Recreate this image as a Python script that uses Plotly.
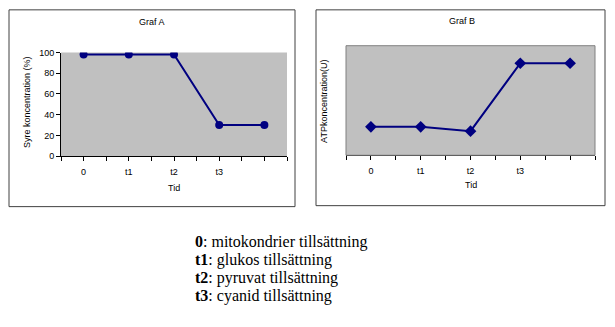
import plotly.graph_objects as go

categories = ["0", "t1", "t2", "t3", ""]
syre_values = [98, 98, 98, 30, 30]
atp_values = [26, 26, 22, 84, 84]
yticks_a = [0, 20, 40, 60, 80, 100]
legend_keys = ["0", "t1", "t2", "t3"]
legend_texts = ["mitokondrier tillsättning", "glukos tillsättning",
                "pyruvat tillsättning", "cyanid tillsättning"]

W, H = 615, 327
px = lambda x: x / W
py = lambda y: 1 - y / H

xpos = list(range(len(categories)))
navy = "#000080"
font = dict(family="Liberation Sans, Arial", size=9, color="black")

fig = go.Figure()
fig.add_trace(go.Scatter(x=xpos, y=syre_values, mode="lines+markers",
                         line=dict(color=navy, width=2),
                         marker=dict(symbol="circle", size=8, color=navy),
                         xaxis="x", yaxis="y", showlegend=False))
fig.add_trace(go.Scatter(x=xpos, y=atp_values, mode="lines+markers",
                         line=dict(color=navy, width=2),
                         marker=dict(symbol="diamond", size=9, color=navy),
                         xaxis="x2", yaxis="y2", showlegend=False))

xcommon = dict(range=[-0.5, 4.5], tickvals=xpos, ticktext=categories,
               ticks="outside", ticklen=4, tickcolor="black", showline=True,
               linecolor="black", linewidth=1, showgrid=False, zeroline=False,
               tickfont=font, fixedrange=True, ticklabelstandoff=3,
               minor=dict(tickvals=[-0.5, 0.5, 1.5, 2.5, 3.5, 4.5],
                          ticks="outside", ticklen=4, tickcolor="black"))

fig.update_layout(
    width=W, height=H, margin=dict(l=0, r=0, t=0, b=0),
    paper_bgcolor="white", plot_bgcolor="#C0C0C0",
    xaxis=dict(domain=[px(61), px(287)], anchor="y", **xcommon),
    yaxis=dict(domain=[py(156), py(49)], anchor="x", range=[0, 100],
               tickvals=yticks_a, ticks="outside", ticklen=4,
               tickcolor="black", showline=True, linecolor="black",
               showgrid=False, zeroline=False, tickfont=font),
    xaxis2=dict(domain=[px(346), px(595)], anchor="y2", **xcommon),
    yaxis2=dict(domain=[py(155), py(42)], anchor="x2", range=[0, 100],
                showticklabels=False, showline=False, showgrid=False,
                zeroline=False, ticks=""),
)

shapes = [
    dict(type="rect", xref="paper", yref="paper", x0=px(9), x1=px(295),
         y0=py(208), y1=py(5), line=dict(color="#404040", width=1)),
    dict(type="rect", xref="paper", yref="paper", x0=px(316), x1=px(605),
         y0=py(207), y1=py(5), line=dict(color="#404040", width=1)),
    dict(type="rect", xref="paper", yref="paper", x0=px(346), x1=px(595),
         y0=py(155), y1=py(42), line=dict(color="#808080", width=1)),
]
fig.update_layout(shapes=shapes)

ann = [
    dict(text="Graf A", x=px(152), y=py(18)),
    dict(text="Graf B", x=px(462), y=py(17)),
    dict(text="Tid", x=px(174), y=py(189)),
    dict(text="Tid", x=px(471), y=py(186)),
    dict(text="Syre koncentration (%)", x=px(27), y=py(100), textangle=-90),
    dict(text="ATPkoncentration(U)", x=px(324), y=py(100), textangle=-90),
]
annotations = [dict(xref="paper", yref="paper", showarrow=False,
                    xanchor="center", yanchor="middle", font=font, **a)
               for a in ann]

serif = dict(family="Liberation Serif, Times New Roman", size=16, color="black")
line_y = [244, 262.7, 281.4, 300]
for k, t, yy in zip(legend_keys, legend_texts, line_y):
    annotations.append(dict(xref="paper", yref="paper", showarrow=False,
                            xanchor="left", yanchor="middle",
                            x=px(193), y=py(yy), font=serif,
                            text=f"<b>{k}</b>: {t}"))
fig.update_layout(annotations=annotations)

fig.write_html("out.html")
